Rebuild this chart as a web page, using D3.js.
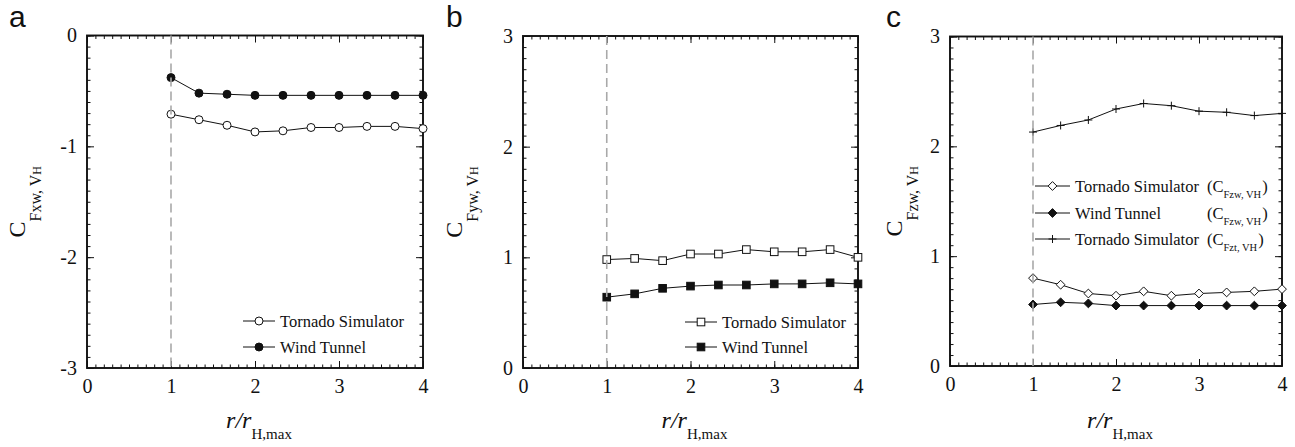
<!DOCTYPE html>
<html>
<head>
<meta charset="utf-8">
<script src="https://cdn.jsdelivr.net/npm/d3@7"></script>
<style>
  html, body { margin: 0; padding: 0; background: #fff; }
  svg { display: block; }
</style>
</head>
<body>
<svg id="chart" width="1295" height="447"></svg>
<script>
// Normalised radial position r / r_H,max
const radialPos = [1, 1.333, 1.667, 2, 2.333, 2.667, 3, 3.333, 3.667, 4];
const xTickValues = [0, 1, 2, 3, 4];

// (a) horizontal force coefficient C_Fxw,VH
const fxTornado = [-0.71, -0.76, -0.81, -0.87, -0.86, -0.83, -0.83, -0.82, -0.82, -0.84];
const fxWind    = [-0.38, -0.52, -0.53, -0.54, -0.54, -0.54, -0.54, -0.54, -0.54, -0.54];
const fxTicks   = [-3, -2, -1, 0];

// (b) lateral force coefficient C_Fyw,VH
const fyTornado = [0.98, 0.99, 0.97, 1.03, 1.03, 1.07, 1.05, 1.05, 1.07, 1.00];
const fyWind    = [0.64, 0.67, 0.72, 0.74, 0.75, 0.75, 0.76, 0.76, 0.77, 0.76];
const fyTicks   = [0, 1, 2, 3];

// (c) vertical force coefficients C_Fzw,VH and C_Fzt,VH
const fzTornado = [0.80, 0.74, 0.66, 0.64, 0.68, 0.64, 0.66, 0.67, 0.68, 0.70];
const fzWind    = [0.56, 0.58, 0.57, 0.55, 0.55, 0.55, 0.55, 0.55, 0.55, 0.55];
const fztTornado = [2.13, 2.19, 2.24, 2.34, 2.39, 2.37, 2.32, 2.31, 2.28, 2.30];
const fzTicks   = [0, 1, 2, 3];

const legendA = ["Tornado Simulator", "Wind Tunnel"];
const legendB = ["Tornado Simulator", "Wind Tunnel"];
const legendC = ["Tornado Simulator", "Wind Tunnel", "Tornado Simulator"];
const legendCSub = ["Fzw, VH", "Fzw, VH", "Fzt, VH"];

const SERIF = "Liberation Serif";
const SANS = "Liberation Sans";
const INK = "#111";

const svg = d3.select("#chart");
svg.append("rect").attr("width", 1295).attr("height", 447).attr("fill", "#fff");

function serifText(sel, size) {
  return sel.style("font-family", SERIF).style("font-size", size + "px").attr("fill", INK);
}

// marker shapes
function drawMarker(g, kind, cx, cy) {
  if (kind === "circleOpen" || kind === "circleFilled") {
    g.append("circle").attr("cx", cx).attr("cy", cy).attr("r", 4)
      .attr("fill", kind === "circleFilled" ? INK : "#fff")
      .attr("stroke", INK).attr("stroke-width", 1);
  } else if (kind === "squareOpen" || kind === "squareFilled") {
    const s = 7.6;
    g.append("rect").attr("x", cx - s / 2).attr("y", cy - s / 2).attr("width", s).attr("height", s)
      .attr("fill", kind === "squareFilled" ? INK : "#fff")
      .attr("stroke", INK).attr("stroke-width", 1);
  } else if (kind === "diamondOpen" || kind === "diamondFilled") {
    const h = 4.4;
    g.append("path")
      .attr("d", `M${cx},${cy - h}L${cx + h},${cy}L${cx},${cy + h}L${cx - h},${cy}Z`)
      .attr("fill", kind === "diamondFilled" ? INK : "#fff")
      .attr("stroke", INK).attr("stroke-width", 1);
  } else if (kind === "plus") {
    const h = 4;
    g.append("path")
      .attr("d", `M${cx - h},${cy}H${cx + h}M${cx},${cy - h}V${cy + h}`)
      .attr("fill", "none").attr("stroke", INK).attr("stroke-width", 1);
  }
}

const panels = [
  {
    letter: "a", letterX: 9, letterY: 27,
    box: { left: 87, right: 423, top: 35.5, bottom: 368 },
    yDomain: [-3, 0], yTicks: fxTicks, ySub: "Fxw, V", yLabelX: 25,
    series: [
      { values: fxTornado, marker: "circleOpen" },
      { values: fxWind, marker: "circleFilled" }
    ],
    legend: { names: legendA, x1: 243, x2: 275, textX: 280, rows: [321, 347] }
  },
  {
    letter: "b", letterX: 446, letterY: 27,
    box: { left: 523, right: 858, top: 36, bottom: 368 },
    yDomain: [0, 3], yTicks: fyTicks, ySub: "Fyw, V", yLabelX: 462,
    series: [
      { values: fyTornado, marker: "squareOpen" },
      { values: fyWind, marker: "squareFilled" }
    ],
    legend: { names: legendB, x1: 685, x2: 717, textX: 722, rows: [322, 347] }
  },
  {
    letter: "c", letterX: 886, letterY: 27,
    box: { left: 950, right: 1282, top: 36.5, bottom: 366 },
    yDomain: [0, 3], yTicks: fzTicks, ySub: "Fzw, V", yLabelX: 902,
    series: [
      { values: fzTornado, marker: "diamondOpen" },
      { values: fzWind, marker: "diamondFilled" },
      { values: fztTornado, marker: "plus" }
    ],
    legend: { names: legendC, subs: legendCSub, x1: 1035, x2: 1070, textX: 1075, parenX: 1207, rows: [186, 213, 239] }
  }
];

panels.forEach(p => {
  const b = p.box;
  const x = d3.scaleLinear().domain([0, 4]).range([b.left, b.right]);
  const y = d3.scaleLinear().domain(p.yDomain).range([b.bottom, b.top]);
  const g = svg.append("g");

  const xMinor = d3.range(0, 4.0001, 0.1).map(v => +v.toFixed(2));
  const yMinor = d3.range(p.yDomain[0], p.yDomain[1] + 0.0001, 0.1).map(v => +v.toFixed(2));
  const fmt = d => String(d);

  function addAxis(axis, tx, ty, labelled) {
    const a = g.append("g").attr("transform", `translate(${tx},${ty})`).call(axis);
    a.select(".domain").remove();
    a.selectAll(".tick line").attr("stroke", INK).attr("stroke-width", 1);
    if (labelled) {
      serifText(a.selectAll(".tick text"), 20);
    } else {
      a.selectAll(".tick text").remove();
    }
    return a;
  }

  // minor ticks on all four sides
  addAxis(d3.axisBottom(x).tickValues(xMinor).tickSizeInner(-3.5).tickSizeOuter(0).tickFormat(""), 0, b.bottom, false);
  addAxis(d3.axisTop(x).tickValues(xMinor).tickSizeInner(-3.5).tickSizeOuter(0).tickFormat(""), 0, b.top, false);
  addAxis(d3.axisLeft(y).tickValues(yMinor).tickSizeInner(-3.5).tickSizeOuter(0).tickFormat(""), b.left, 0, false);
  addAxis(d3.axisRight(y).tickValues(yMinor).tickSizeInner(-3.5).tickSizeOuter(0).tickFormat(""), b.right, 0, false);

  // major ticks, labelled on bottom and left
  addAxis(d3.axisBottom(x).tickValues(xTickValues).tickSizeInner(-7).tickSizeOuter(0).tickPadding(11).tickFormat(fmt), 0, b.bottom, true);
  addAxis(d3.axisTop(x).tickValues(xTickValues).tickSizeInner(-7).tickSizeOuter(0).tickFormat(""), 0, b.top, false);
  addAxis(d3.axisLeft(y).tickValues(p.yTicks).tickSizeInner(-7).tickSizeOuter(0).tickPadding(10).tickFormat(fmt), b.left, 0, true);
  addAxis(d3.axisRight(y).tickValues(p.yTicks).tickSizeInner(-7).tickSizeOuter(0).tickFormat(""), b.right, 0, false);

  // frame
  g.append("rect").attr("x", b.left).attr("y", b.top)
    .attr("width", b.right - b.left).attr("height", b.bottom - b.top)
    .attr("fill", "none").attr("stroke", INK).attr("stroke-width", 1.9);

  // series lines and markers
  const line = d3.line().x((d, i) => x(radialPos[i])).y(d => y(d));
  p.series.forEach(s => {
    g.append("path").datum(s.values).attr("d", line)
      .attr("fill", "none").attr("stroke", INK).attr("stroke-width", 1);
  });
  p.series.forEach(s => {
    s.values.forEach((v, i) => drawMarker(g, s.marker, x(radialPos[i]), y(v)));
  });

  // dashed reference at r / r_H,max = 1
  g.append("line").attr("x1", x(1)).attr("x2", x(1)).attr("y1", b.top).attr("y2", b.bottom)
    .attr("stroke", "#a9a9a9").attr("stroke-width", 1.6).attr("stroke-dasharray", "9,5");

  // legend
  const L = p.legend;
  L.names.forEach((name, i) => {
    const ry = L.rows[i];
    g.append("line").attr("x1", L.x1).attr("x2", L.x2).attr("y1", ry).attr("y2", ry)
      .attr("stroke", INK).attr("stroke-width", 1);
    drawMarker(g, p.series[i].marker, (L.x1 + L.x2) / 2, ry);
    serifText(g.append("text").attr("x", L.textX).attr("y", ry + 6), 16.5).text(name);
    if (L.subs) {
      const t = serifText(g.append("text").attr("x", L.parenX).attr("y", ry + 6), 16.5);
      t.append("tspan").text("(C");
      t.append("tspan").attr("dy", 6).style("font-size", "10.5px").text(L.subs[i]);
      t.append("tspan").attr("dy", -6).attr("dx", 1).text(")");
    }
  });

  // y axis title
  const cy = (b.top + b.bottom) / 2;
  const yt = serifText(g.append("text"), 24)
    .attr("transform", `translate(${p.yLabelX},${cy}) rotate(-90)`)
    .attr("text-anchor", "middle");
  yt.append("tspan").text("C");
  yt.append("tspan").attr("dy", 16).style("font-size", "16px").text(p.ySub);
  yt.append("tspan").style("font-size", "12px").text("H");

  // x axis title
  const xt = serifText(g.append("text"), 24).attr("x", (b.left + b.right) / 2 + 4).attr("y", 428)
    .attr("text-anchor", "middle");
  xt.append("tspan").style("font-style", "italic").text("r/r");
  xt.append("tspan").attr("dy", 11).style("font-size", "15px").text("H,max");

  // panel letter
  svg.append("text").attr("x", p.letterX).attr("y", p.letterY)
    .style("font-family", SANS).style("font-size", "30px").attr("fill", INK).text(p.letter);
});
</script>
</body>
</html>
